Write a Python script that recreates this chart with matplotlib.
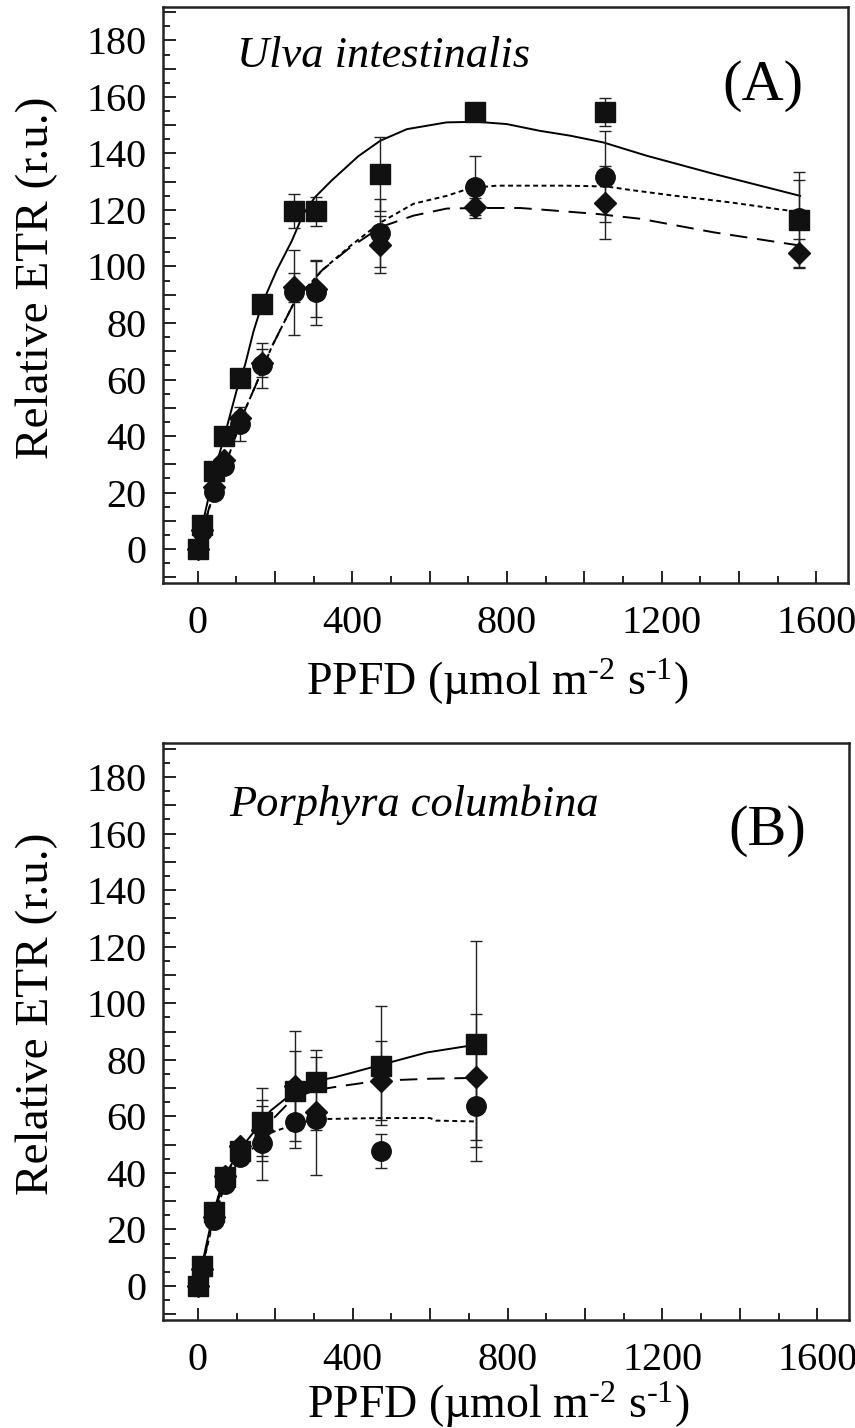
import matplotlib
matplotlib.use('Agg')
import matplotlib.pyplot as plt
from matplotlib.ticker import MultipleLocator, FuncFormatter

plt.rcParams['font.family'] = ['Liberation Serif', 'DejaVu Serif']
plt.rcParams['mathtext.fontset'] = 'custom'
plt.rcParams['mathtext.rm'] = 'Liberation Serif'
plt.rcParams['mathtext.it'] = 'Liberation Serif:italic'

# ---------------- data ----------------
ppfd_A = [0, 11, 42, 69, 108, 167, 250, 306, 472, 718, 1054, 1555]
sq_A = [0, 8.4, 27.7, 40.1, 60.4, 86.8, 119.5, 119.5, 132.7, 154.5, 154.6, 116.5]
sq_A_err = [0, 0, 0, 0, 0, 0, 6, 5, 13, 2, 5, 17]
ci_A = [0, 6.4, 20.1, 29.3, 44.2, 65.1, 90.8, 90.8, 111.8, 128.0, 131.8, 117.0]
ci_A_err = [0, 0, 0, 2, 6, 8, 15, 11.5, 12, 11, 16, 13.5]
di_A = [0, 6.6, 21.9, 31.4, 46.5, 65.8, 92.6, 92.0, 107.7, 121.2, 122.6, 104.7]
di_A_err = [0, 0, 0, 0, 2, 5, 5, 10, 10, 3, 13, 5]

fit_sq_A_x = [0, 11, 42, 69, 108, 122, 144, 167, 204, 243, 273, 303, 346, 415, 472, 541, 644, 722, 799, 885, 963, 1049, 1161, 1334, 1558]
fit_sq_A_y = [0, 8, 27, 40, 60, 65, 77, 87, 98.6, 109, 118.6, 124.5, 130.4, 139, 144.5, 148.6, 151, 151.2, 150.4, 148, 146.3, 143.9, 139.2, 132.8, 125]
fit_ci_A_x = [0, 11, 42, 79, 118, 148, 191, 252, 321, 390, 472, 558, 644, 704, 773, 954, 1058, 1118, 1230, 1377, 1558]
fit_ci_A_y = [0, 6, 20, 32.6, 48, 57.4, 71.5, 88, 98.6, 106.8, 115.5, 122.2, 125, 127.7, 128.6, 128.6, 128.3, 127.1, 125.1, 122.7, 119.2]
fit_di_A_x = [0, 11, 42, 79, 118, 148, 191, 252, 321, 390, 472, 558, 644, 730, 834, 902, 1032, 1144, 1334, 1558]
fit_di_A_y = [0, 6, 20.5, 32.6, 48, 57.4, 71.5, 88, 98.6, 106.3, 113.9, 118, 120.5, 120.7, 120.7, 120, 118.6, 116.9, 112.1, 107.4]

ppfd_B = [0, 11, 42, 69, 108, 167, 250, 306, 472, 718]
sq_B = [0, 7.1, 26.1, 38.5, 47.9, 57.9, 69.1, 72.0, 77.9, 85.5]
sq_B_err = [0, 0, 0, 0, 2, 12, 14, 9, 21, 36.5]
ci_B = [0, 6.1, 23.2, 36.1, 45.5, 50.5, 57.9, 59.0, 47.6, 63.8]
ci_B_err = [0, 0, 0, 0, 2, 13, 9, 4, 6, 19.7]
di_B = [0, 6.1, 24.4, 39.0, 49.4, 55.0, 70.8, 61.4, 72.6, 73.8]
di_B_err = [0, 0, 0, 0, 2, 10.8, 19.4, 22, 14, 22.3]

fit_sq_B_x = [0, 10, 40, 68, 107, 165, 188, 247, 305, 353, 400, 467, 592, 717]
fit_sq_B_y = [0, 7, 26, 38.5, 48, 58, 62, 68.5, 72.5, 73.8, 75.5, 78, 82.6, 85.3]
fit_ci_B_x = [0, 10, 40, 68, 107, 165, 192, 247, 305, 467, 600, 615, 717]
fit_ci_B_y = [0, 6, 23, 35, 45, 51, 54.4, 57, 59, 59.4, 59.4, 58.5, 58.2]
fit_di_B_x = [0, 10, 40, 68, 107, 165, 247, 305, 360, 467, 600, 717]
fit_di_B_y = [0, 6, 24, 38, 48, 55, 66.5, 69.3, 70.5, 72.6, 73.3, 73.6]

species = ["Ulva intestinalis", "Porphyra columbina"]
panel_tags = ["(A)", "(B)"]
xlabel = "PPFD (µmol m$^{\u2010\\mathrm{2}}$ s$^{\u2010\\mathrm{1}}$)"
ylabel = "Relative ETR (r.u.)"

# ---------------- figure ----------------
fig = plt.figure(figsize=(8.55, 14.28), dpi=100)
axA = fig.add_axes([163/855, 1-583/1428, 685/855, 576.5/1428])
axB = fig.add_axes([163/855, 1-1320/1428, 686/855, 577/1428])

dotted = (0, (2.5, 1.8))
dashed = (0, (9, 5))


def draw(ax, x, sq, sqe, ci, cie, di, die, fits):
    (fsx, fsy), (fcx, fcy), (fdx, fdy) = fits
    ax.plot(fsx, fsy, color='black', lw=1.4, ls='-', zorder=2)
    ax.plot(fcx, fcy, color='black', lw=1.4, ls=dotted, zorder=2)
    ax.plot(fdx, fdy, color='black', lw=1.4, ls=dashed, zorder=2)
    ekw = dict(fmt='none', ecolor='#222222', elinewidth=1.0, capsize=4.2, capthick=1.0, zorder=3)
    ax.errorbar(x, ci, yerr=cie, **ekw)
    ax.errorbar(x, di, yerr=die, **ekw)
    ax.errorbar(x, sq, yerr=sqe, **ekw)
    ax.plot(x, ci, 'o', color='#111111', ms=14, ls='none', zorder=4)
    ax.plot(x, di, 'D', color='#111111', ms=11, ls='none', zorder=5)
    ax.plot(x, sq, 's', color='#111111', ms=14.5, ls='none', zorder=6)


draw(axA, ppfd_A, sq_A, sq_A_err, ci_A, ci_A_err, di_A, di_A_err,
     [(fit_sq_A_x, fit_sq_A_y), (fit_ci_A_x, fit_ci_A_y), (fit_di_A_x, fit_di_A_y)])
draw(axB, ppfd_B, sq_B, sq_B_err, ci_B, ci_B_err, di_B, di_B_err,
     [(fit_sq_B_x, fit_sq_B_y), (fit_ci_B_x, fit_ci_B_y), (fit_di_B_x, fit_di_B_y)])

for ax, xl_y in [(axA, -0.128), (axB, -0.104)]:
    ax.set_xlim(-90, 1682)
    ax.set_ylim(-12, 192)
    ax.xaxis.set_major_locator(MultipleLocator(200))
    ax.xaxis.set_minor_locator(MultipleLocator(100))
    ax.yaxis.set_major_locator(MultipleLocator(10))
    ax.yaxis.set_minor_locator(MultipleLocator(5))
    ax.xaxis.set_major_formatter(FuncFormatter(lambda v, p: f"{int(round(v))}" if round(v) % 400 == 0 else ""))
    ax.yaxis.set_major_formatter(FuncFormatter(lambda v, p: f"{int(round(v))}" if round(v) % 20 == 0 else ""))
    ax.tick_params(which='both', direction='in', top=False, right=False, width=1.4, labelsize=29, color='#222222')
    ax.tick_params(which='major', length=9)
    ax.tick_params(which='minor', length=5)
    ax.tick_params(axis='y', which='major', pad=12)
    ax.tick_params(axis='x', which='major', pad=16)
    for s in ax.spines.values():
        s.set_linewidth(1.8)
        s.set_color('#222222')
    ax.set_xlabel(xlabel, fontsize=33)
    ax.set_ylabel(ylabel, fontsize=34)
    ax.yaxis.set_label_coords(-0.153, 0.53)
    ax.xaxis.set_label_coords(0.488, xl_y)

axA.text(102, 174.5, species[0], fontsize=32, style='italic', ha='left', va='center')
axB.text(80, 170, species[1], fontsize=32, style='italic', ha='left', va='center')
axA.text(1463, 164, panel_tags[0], fontsize=42, ha='center', va='center')
axB.text(1470, 161, panel_tags[1], fontsize=42, ha='center', va='center')

fig.savefig('out.png', dpi=100)
